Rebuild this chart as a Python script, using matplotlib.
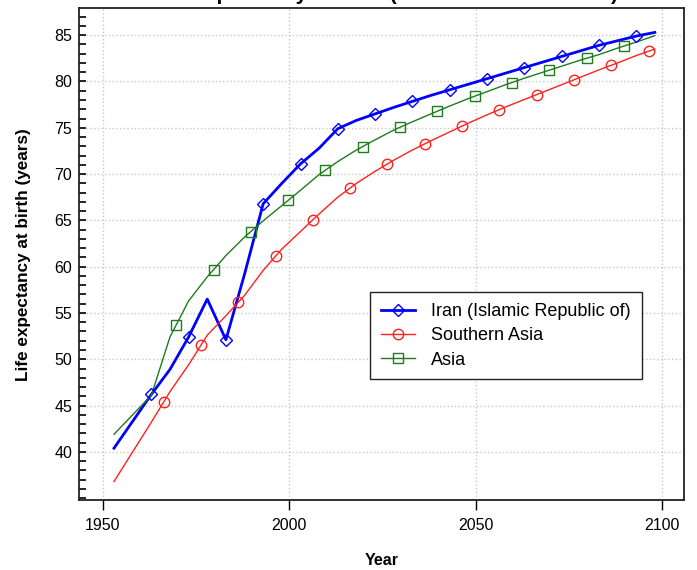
import numpy as np
import matplotlib.pyplot as plt
from matplotlib.lines import Line2D
from matplotlib.ticker import MultipleLocator, FixedLocator

plt.rcParams['font.family'] = ['Liberation Sans', 'DejaVu Sans']

years = np.arange(1953, 2099, 5)

iran = [40.4, 43.3, 46.2, 48.9, 52.4, 56.5, 52.1, 59.2, 66.8, 69.0,
        71.1, 72.8, 74.9, 75.8, 76.5, 77.2, 77.85, 78.5, 79.1, 79.7,
        80.3, 80.9, 81.5, 82.1, 82.7, 83.3, 83.9, 84.4, 84.9, 85.3]
southern_asia = [36.8, 40.0, 43.2, 46.5, 49.4, 52.6, 54.7, 56.9, 59.6, 61.9,
                 63.8, 65.7, 67.5, 69.0, 70.3, 71.5, 72.6, 73.6, 74.55, 75.5,
                 76.4, 77.25, 78.05, 78.85, 79.65, 80.45, 81.25, 82.0, 82.8, 83.5]
asia = [41.9, 44.0, 46.1, 52.4, 56.3, 58.9, 61.2, 63.2, 64.95, 66.6,
        68.25, 69.95, 71.35, 72.6, 73.7, 74.75, 75.65, 76.5, 77.35, 78.15,
        78.9, 79.65, 80.35, 81.0, 81.65, 82.3, 82.9, 83.6, 84.25, 84.95]

labels = ['Iran (Islamic Republic of)', 'Southern Asia', 'Asia']
y_ticks = [40, 45, 50, 55, 60, 65, 70, 75, 80, 85]

# style per series: colour, line width, marker, size, first marker year
styles = [
    ('#0000ff', 2.0, 'D', 6.5, 1963.0),
    ('#ff2020', 1.0, 'o', 7.5, 1966.3),
    ('#1e7b1e', 1.0, 's', 7.0, 1969.7),
]
series = [iran, southern_asia, asia]

fig = plt.figure(figsize=(6.97, 5.70), dpi=100)
ax = fig.add_axes([0.1138, 0.1228, 0.8680, 0.8626])

handles = []
for vals, (col, lw, mk, ms, start) in zip(series, styles):
    ax.plot(years, vals, color=col, lw=lw, zorder=3)
    # markers spaced every 10 years along the line
    mx = np.arange(start, years[-1], 10)
    ax.plot(mx, np.interp(mx, years, vals), ls='none', marker=mk, ms=ms,
            mfc='none', mec=col, mew=1.0, zorder=4)
    handles.append(Line2D([], [], color=col, lw=lw, marker=mk, ms=ms,
                          mfc='none', mec=col, mew=1.0))

ax.set_xlim(1943.7, 2105.9)
ax.set_ylim(34.8, 87.9)
ax.xaxis.set_major_locator(MultipleLocator(50))
ax.yaxis.set_major_locator(FixedLocator(y_ticks))
ax.yaxis.set_minor_locator(MultipleLocator(1))
ax.grid(True, which='major', color='#c8c8c8', ls=':', lw=1.0)
ax.tick_params(axis='x', direction='out', length=7, width=1, pad=6, labelsize=11.5)
ax.tick_params(axis='y', which='both', direction='in', length=5, width=1.2,
               pad=5, labelsize=11.5)
for sp in ax.spines.values():
    sp.set_linewidth(1.3)
    sp.set_color('#222222')

ax.set_xlabel('Year', fontweight='bold', fontsize=11.5, labelpad=14)
ax.set_ylabel('Life expectancy at birth (years)', fontweight='bold', fontsize=12.3,
              labelpad=17)
ax.set_title('Life expectancy at birth (both sexes combined)', fontweight='bold',
             fontsize=15, pad=6, x=0.503)

leg = ax.legend(handles, labels, loc='upper left', bbox_to_anchor=(0.4805, 0.4224),
                borderaxespad=0, fontsize=13.0, fancybox=False, framealpha=1,
                edgecolor='#222222', handlelength=1.9, handletextpad=0.9,
                borderpad=0.6, labelspacing=0.4)
leg.get_frame().set_linewidth(1.0)

fig.savefig('out.png', dpi=100)
